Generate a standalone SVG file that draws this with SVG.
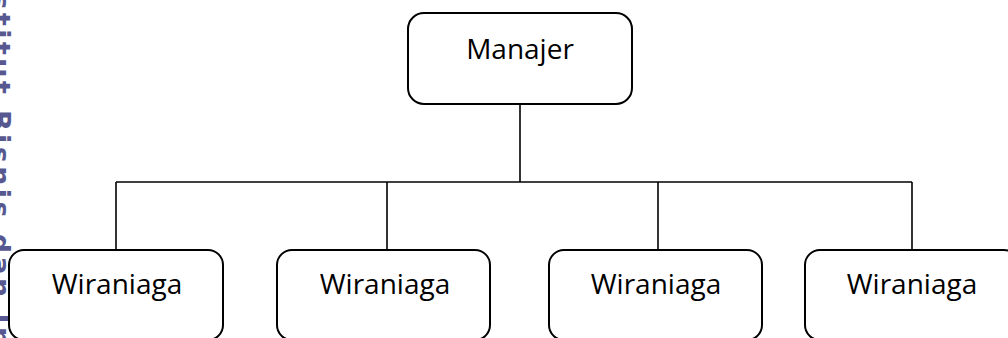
<svg xmlns="http://www.w3.org/2000/svg" width="1008" height="338" viewBox="0 0 1008 338">
<style>
.box{fill:#fff;stroke:#000;stroke-width:2}
.lbl{font-family:"Open Sans","Noto Sans",sans-serif;font-size:28px;fill:#000;text-anchor:middle}
.conn{stroke:#000;stroke-width:1.6;fill:none}
.wm{font-family:"DejaVu Sans",sans-serif;font-weight:bold;font-size:27px;fill:#585890;letter-spacing:3.4px}
</style>
<rect width="1008" height="338" fill="#fff"/>
<text class="wm" transform="translate(-9,-42.5) rotate(90)">Institut Bisnis dan Informatika Kwik Kian Gie</text>
<g id="connectors">
<line class="conn" x1="520" y1="104" x2="520" y2="182"/>
<line class="conn" x1="116" y1="182" x2="912" y2="182"/>
<line class="conn" x1="116" y1="182" x2="116" y2="250"/>
<line class="conn" x1="387" y1="182" x2="387" y2="250"/>
<line class="conn" x1="658" y1="182" x2="658" y2="250"/>
<line class="conn" x1="912" y1="182" x2="912" y2="250"/>
</g>
<g id="manajer">
<rect class="box" x="408" y="13" width="224" height="91" rx="16"/>
<text class="lbl" x="520" y="59">Manajer</text>
</g>
<g id="wiraniaga1">
<rect class="box" x="9" y="250" width="214" height="90" rx="15"/>
<text class="lbl" x="117" y="294">Wiraniaga</text>
</g>
<g id="wiraniaga2">
<rect class="box" x="277" y="250" width="213" height="90" rx="15"/>
<text class="lbl" x="385" y="294">Wiraniaga</text>
</g>
<g id="wiraniaga3">
<rect class="box" x="549" y="250" width="213" height="90" rx="15"/>
<text class="lbl" x="656" y="294">Wiraniaga</text>
</g>
<g id="wiraniaga4">
<rect class="box" x="805" y="250" width="214" height="90" rx="15"/>
<text class="lbl" x="912" y="294">Wiraniaga</text>
</g>
</svg>
